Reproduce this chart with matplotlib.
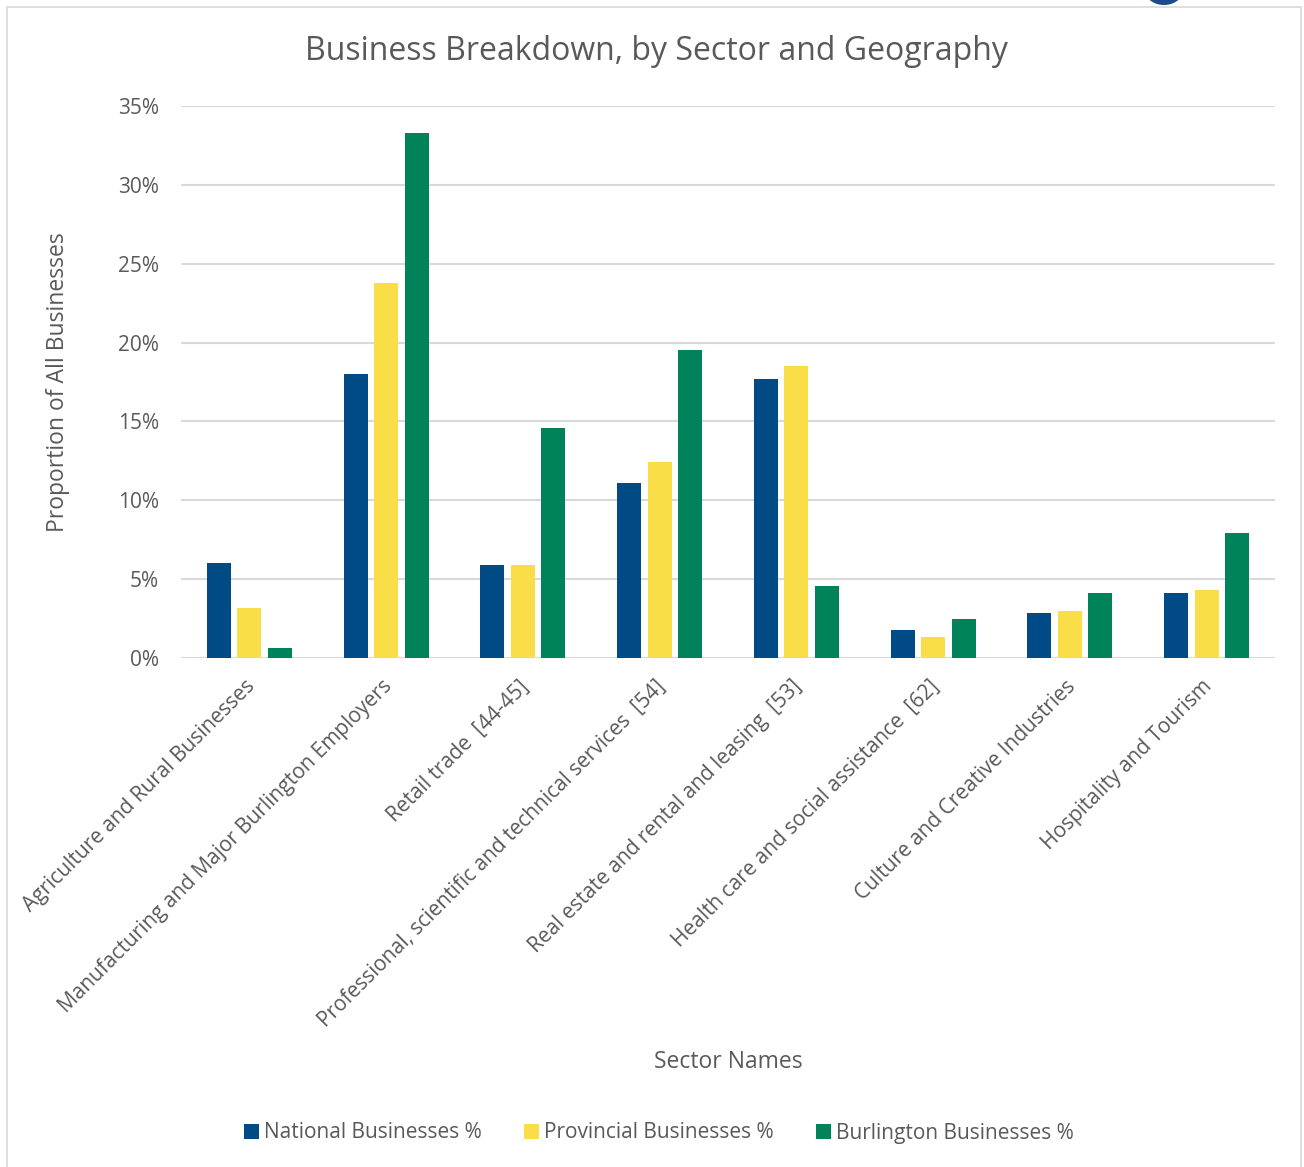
import matplotlib
matplotlib.use("Agg")
import matplotlib.pyplot as plt
import numpy as np
from matplotlib.patches import Rectangle, Ellipse
from matplotlib.ticker import FuncFormatter
from matplotlib.transforms import ScaledTranslation

plt.rcParams['font.family'] = ['Open Sans', 'DejaVu Sans']

sectors = [
    "Agriculture and Rural Businesses",
    "Manufacturing and Major Burlington Employers",
    "Retail trade  [44-45]",
    "Professional, scientific and technical services  [54]",
    "Real estate and rental and leasing  [53]",
    "Health care and social assistance  [62]",
    "Culture and Creative Industries",
    "Hospitality and Tourism",
]
national = [6.0, 18.0, 5.9, 11.1, 17.7, 1.8, 2.85, 4.15]
provincial = [3.15, 23.8, 5.9, 12.45, 18.5, 1.3, 2.95, 4.3]
burlington = [0.65, 33.3, 14.6, 19.5, 4.55, 2.5, 4.1, 7.9]
series_names = ["National Businesses %", "Provincial Businesses %", "Burlington Businesses %"]
colors = ["#004B85", "#F9DE48", "#00825A"]
y_ticks = [0, 5, 10, 15, 20, 25, 30, 35]

W, H = 1304, 1167
fig = plt.figure(figsize=(W / 100, H / 100), dpi=100)
fig.patch.set_facecolor("white")

# light chart border
fig.patches.append(Rectangle((7 / W, -0.01), (1301 - 7) / W, 1.01 - 7 / H,
                             transform=fig.transFigure, fill=False,
                             edgecolor="#D9D9D9", linewidth=1.2))
# corner of the logo peeking in at the top edge
fig.patches.append(Ellipse((1164 / W, 1 + 8 / H), 36 / W, 26 / H,
                           transform=fig.transFigure, facecolor="#1D4C8C",
                           edgecolor="none"))

ax = fig.add_axes([181 / W, 1 - 658 / H, (1275 - 181) / W, (658 - 106) / H])
x = np.arange(len(sectors))
bw = 0.176
step = 0.223
for i, (vals, name, c) in enumerate(zip([national, provincial, burlington], series_names, colors)):
    ax.bar(x + (i - 1) * step, vals, width=bw, color=c, label=name, zorder=3)

ax.set_xlim(-0.5, len(sectors) - 0.5)
ax.set_ylim(0, 35)
ax.set_yticks(y_ticks)
ax.yaxis.set_major_formatter(FuncFormatter(lambda v, p: f"{v:.0f}%"))
ax.grid(axis="y", color="#D9D9D9", linewidth=1.5, zorder=0)
for s in ax.spines.values():
    s.set_visible(False)
ax.tick_params(axis="both", length=0, colors="#595959", labelsize=15)
ax.tick_params(axis="y", pad=16)
ax.set_xticks(x)
ax.set_xticklabels(sectors, rotation=45, ha="right", va="top",
                   rotation_mode="anchor", color="#595959", fontsize=15)
ax.tick_params(axis="x", pad=13)
shift = ScaledTranslation(-5 / 100, 0, fig.dpi_scale_trans)
for lbl in ax.get_xticklabels():
    lbl.set_transform(lbl.get_transform() + shift)

fig.text(58 / W, 1 - 382 / H, "Proportion of All Businesses", rotation=90,
         ha="center", va="center", fontsize=16.5, color="#595959")
fig.text(656 / W, 1 - 52 / H, "Business Breakdown, by Sector and Geography",
         ha="center", va="center", fontsize=23, color="#595959")
fig.text(728 / W, 1 - 1062 / H, "Sector Names", ha="center", va="center",
         fontsize=16.5, color="#595959")

handles, labels = ax.get_legend_handles_labels()
fig.legend(handles, labels, loc="center", bbox_to_anchor=(659 / W, 1 - 1133 / H),
           ncol=3, frameon=False, fontsize=15, handlelength=0.7, handleheight=0.7,
           handletextpad=0.25, columnspacing=2.05, labelcolor="#595959")

fig.savefig("out.png", dpi=100, facecolor="white")
